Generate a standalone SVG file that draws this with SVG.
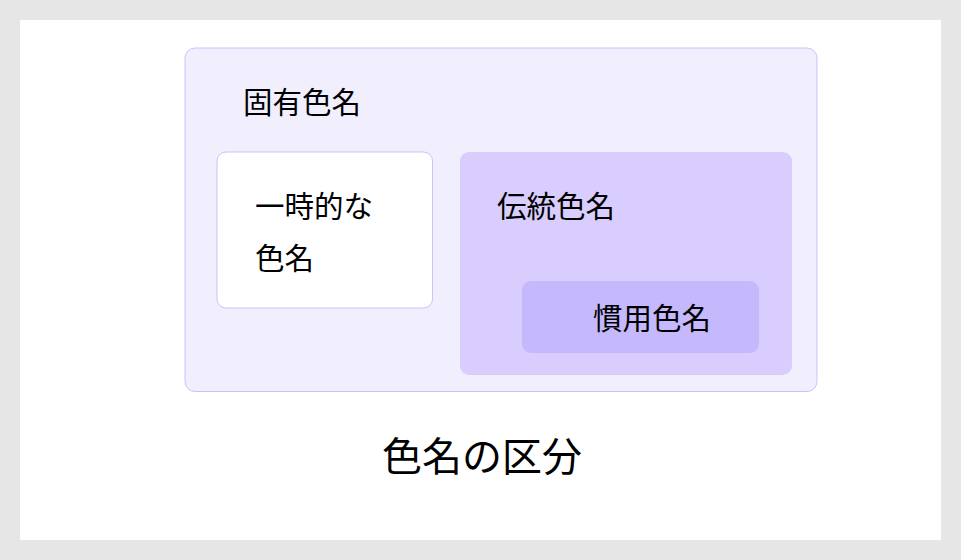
<svg xmlns="http://www.w3.org/2000/svg" width="961" height="560" viewBox="0 0 961 560">
<style>
text{font-family:"Noto Sans CJK JP","Noto Sans CJK SC",sans-serif;fill:#000}
.t{font-size:29.5px}
</style>
<rect x="0" y="0" width="961" height="560" fill="#e6e6e6"/>
<rect x="20" y="20" width="921" height="520" fill="#ffffff"/>
<g id="proper">
<rect x="185" y="48" width="632" height="343.5" rx="10" fill="#f1eefe" stroke="#cbc2fb" stroke-width="1"/>
<text class="t" x="243" y="113">固有色名</text>
</g>
<g id="temporary">
<rect x="217" y="152" width="215.5" height="156" rx="9" fill="#ffffff" stroke="#cbc2fb" stroke-width="1"/>
<text class="t" x="255" y="217">一時的な</text>
<text class="t" x="255" y="269">色名</text>
</g>
<g id="traditional">
<rect x="460" y="152" width="332" height="223" rx="9" fill="#d8cdfd"/>
<text class="t" x="497" y="217">伝統色名</text>
</g>
<g id="customary">
<rect x="522" y="281" width="237" height="72" rx="9" fill="#c5b8fd"/>
<text class="t" x="593" y="329">慣用色名</text>
</g>
<g id="connectors"></g>
<text x="382" y="471" font-size="40px">色名の区分</text>
</svg>
